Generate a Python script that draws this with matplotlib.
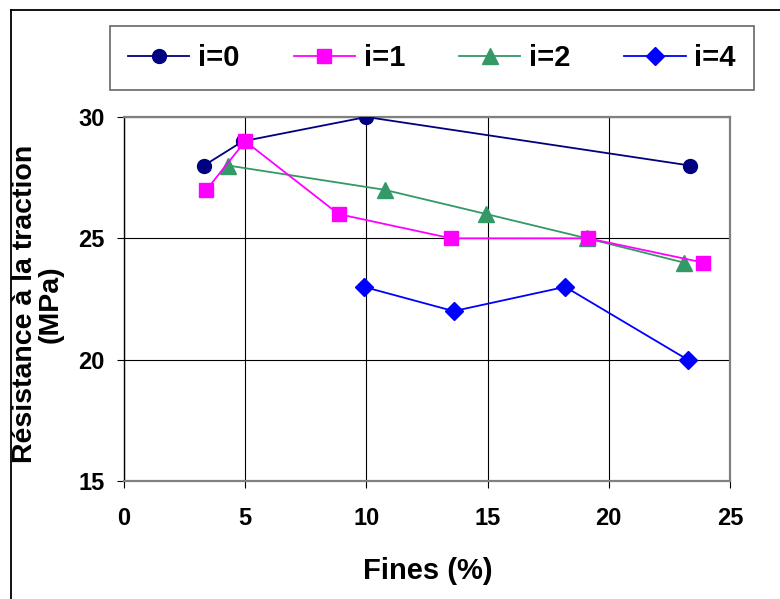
import matplotlib.pyplot as plt
from matplotlib.lines import Line2D

# Data
x_i0 = [3.3, 4.9, 10.0, 23.35]
y_i0 = [28, 29, 30, 28]

x_i1 = [3.4, 5.0, 8.85, 13.5, 19.15, 23.9]
y_i1 = [27, 29, 26, 25, 25, 24]

x_i2 = [4.3, 10.75, 14.95, 19.1, 23.1]
y_i2 = [28, 27, 26, 25, 24]

x_i4 = [9.9, 13.6, 18.2, 23.25]
y_i4 = [23, 22, 23, 20]

labels = ['i=0', 'i=1', 'i=2', 'i=4']
xticks = [0, 5, 10, 15, 20, 25]
yticks = [15, 20, 25, 30]

plt.rcParams['font.family'] = ['Liberation Sans', 'DejaVu Sans']
plt.rcParams['font.weight'] = 'bold'

fig = plt.figure(figsize=(7.8, 5.99), dpi=100)
ax = fig.add_axes([124 / 780, 1 - 481 / 599, 606 / 780, 364 / 599])

ax.plot(x_i0, y_i0, color='#000080', marker='o', markersize=10, lw=1.3, label=labels[0], zorder=3)
ax.plot(x_i1, y_i1, color='#FF00FF', marker='s', markersize=10, lw=1.3, label=labels[1], zorder=4)
ax.plot(x_i2, y_i2, color='#339966', marker='^', markersize=11, lw=1.3, label=labels[2], zorder=3)
ax.plot(x_i4, y_i4, color='#0000FF', marker='D', markersize=9, lw=1.3, label=labels[3], zorder=3)

ax.set_xlim(0, 25)
ax.set_ylim(15, 30)
ax.set_xticks(xticks)
ax.set_yticks(yticks)
ax.tick_params(axis='both', labelsize=17, direction='out', length=5, width=0.8, color='black')
ax.tick_params(axis='x', pad=14)
ax.tick_params(axis='y', pad=9)
for lab in ax.get_xticklabels() + ax.get_yticklabels():
    lab.set_fontweight('bold')

ax.grid(True, color='black', lw=0.8)
ax.set_axisbelow(True)
for side in ['top', 'right', 'bottom']:
    ax.spines[side].set_color('#808080')
    ax.spines[side].set_linewidth(1.6)
ax.spines['left'].set_color('black')
ax.spines['left'].set_linewidth(1.0)

fig.text(38 / 780, 1 - 304 / 599, 'Résistance à la traction\n(MPa)', rotation=90,
         ha='center', va='center', fontsize=20.5, fontweight='bold', linespacing=1.0)
fig.text(428 / 780, 1 - 571 / 599, 'Fines (%)', ha='center', va='center',
         fontsize=21, fontweight='bold')

# legend in a box across the top
leg = fig.legend(loc='center', bbox_to_anchor=(432 / 780, 1 - 58 / 599), ncol=4,
                 prop={'weight': 'bold', 'size': 21}, frameon=True, fancybox=False,
                 handlelength=2.1, handletextpad=0.3, columnspacing=1.85,
                 borderpad=0.62, borderaxespad=0)
leg.get_frame().set_edgecolor('#404040')
leg.get_frame().set_linewidth(1.2)

# outer frame (cropped on the right and bottom)
fig.add_artist(Line2D([11 / 780, 11 / 780], [0, 1 - 10 / 599], color='black', lw=1.3))
fig.add_artist(Line2D([11 / 780, 1], [1 - 10 / 599, 1 - 10 / 599], color='black', lw=1.3))

fig.savefig('out.png', dpi=100)
